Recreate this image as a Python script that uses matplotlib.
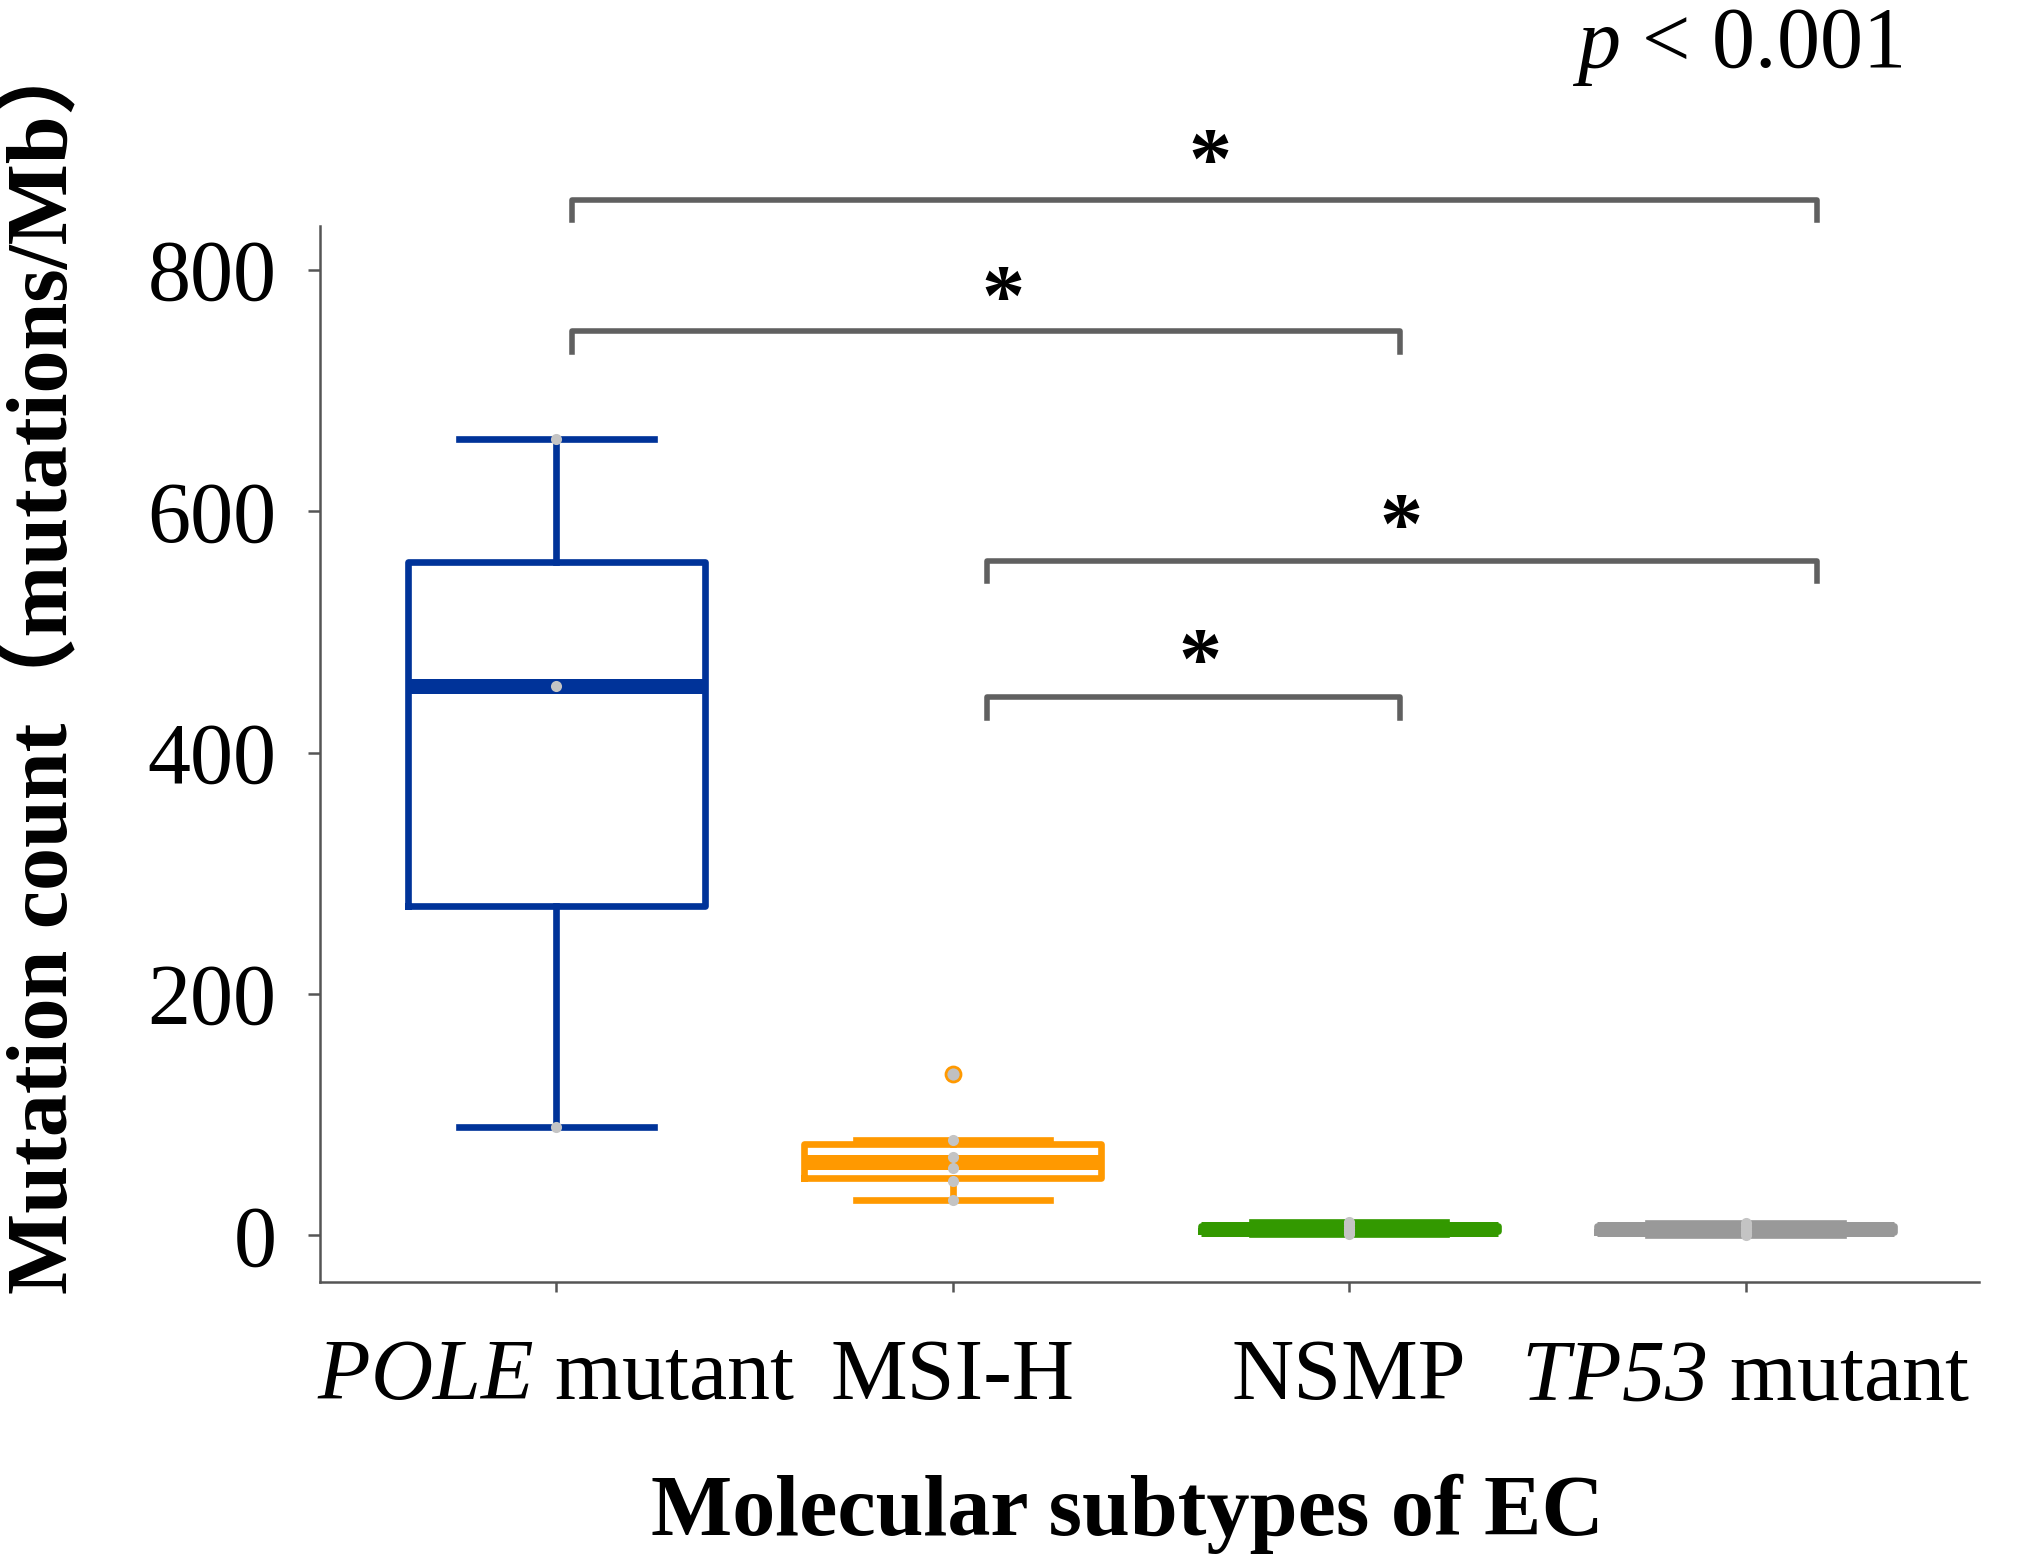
import matplotlib
matplotlib.use("Agg")
import matplotlib.pyplot as plt
import numpy as np

# TMB values per molecular subtype
subtypes = ["POLE", "MSI-H", "NSMP", "TP53"]
pole_tmb = [90, 455, 660]
msih_tmb = [29, 45, 56, 65, 79, 134]
nsmp_tmb = [0.8, 2.5, 4, 5.5, 7, 9, 11.2]
tp53_tmb = [0.5, 2, 3.5, 5, 6.5, 8, 10.5]
tick_labels = [r"$\mathsf{POLE}$ mutant", "MSI-H", "NSMP", r"$\mathsf{TP53}$ mutant"]
box_colors = ["#003399", "#FF9900", "#339900", "#999999"]

# pairwise comparisons: bracket start, end, height, star position
brk_start = [0.04, 0.04, 1.085, 1.085]
brk_end = [3.18, 2.127, 3.18, 2.127]
brk_height = [858, 749, 559, 446]
star_x = [1.65, 1.126, 2.131, 1.623]
star_y = [899, 785, 596, 484]

plt.rcParams["font.family"] = ["Liberation Serif", "Noto Sans CJK SC"]
plt.rcParams["mathtext.fontset"] = "custom"
plt.rcParams["mathtext.rm"] = "Liberation Serif"
plt.rcParams["mathtext.sf"] = "Liberation Serif:italic"

fig = plt.figure(figsize=(10.12, 7.785), dpi=200)
ax = fig.add_axes([0.158, 0.1766, 0.82, 0.678])

data = [pole_tmb, msih_tmb, nsmp_tmb, tp53_tmb]
for i, (vals, col) in enumerate(zip(data, box_colors)):
    ax.boxplot(vals, positions=[i], widths=0.75, capwidths=0.49, whis=1.5,
               boxprops=dict(color=col, linewidth=2.4),
               whiskerprops=dict(color=col, linewidth=2.4),
               capprops=dict(color=col, linewidth=2.4),
               medianprops=dict(color=col, linewidth=5.4),
               flierprops=dict(marker="o", markerfacecolor="#c0c0c0",
                               markeredgecolor=col, markersize=5.4,
                               markeredgewidth=1.0),
               manage_ticks=False)
    v = np.array(vals)
    q1, q3 = np.percentile(v, [25, 75])
    inl = v[(v >= q1 - 1.5 * (q3 - q1)) & (v <= q3 + 1.5 * (q3 - q1))]
    ax.plot(np.full(len(inl), i), inl, "o", color="#c4c4c4", markersize=4.0,
            markeredgewidth=0, zorder=5)

# significance brackets
for x0, x1, h, sx, sy in zip(brk_start, brk_end, brk_height, star_x, star_y):
    ax.plot([x0, x0, x1, x1], [h - 17, h, h, h - 17], color="#606060",
            linewidth=2.0, clip_on=False, solid_joinstyle="round")
    ax.text(sx, sy - 30, "*", fontsize=31, fontweight="bold", ha="center",
            va="baseline", clip_on=False)

ax.text(3.395, 968, r"$\mathsf{p}$ < 0.001", fontsize=31, ha="right",
        va="baseline", clip_on=False)

ax.set_xlim(-0.597, 3.59)
ax.set_ylim(-38.8, 836)
ax.set_yticks([0, 200, 400, 600, 800])
ax.set_xticks(range(len(subtypes)))
ax.set_xticklabels(tick_labels)

for s in ["top", "right"]:
    ax.spines[s].set_visible(False)
for s in ["left", "bottom"]:
    ax.spines[s].set_color("#555555")
    ax.spines[s].set_linewidth(0.9)
ax.tick_params(axis="y", labelsize=31, length=4.5, width=0.9, color="#555555", pad=11)
ax.tick_params(axis="x", labelsize=31, length=3.5, width=0.9, color="#555555", pad=17)

fig.text(0.557, 0.0141, "Molecular subtypes of EC", fontsize=31, fontweight="bold",
         ha="center", va="baseline")
fig.text(0.022, 0.575, "Mutation count（mutations/Mb）", fontsize=31, fontweight="bold",
         ha="center", va="center", rotation=90)

fig.savefig("out.png", dpi=200)
